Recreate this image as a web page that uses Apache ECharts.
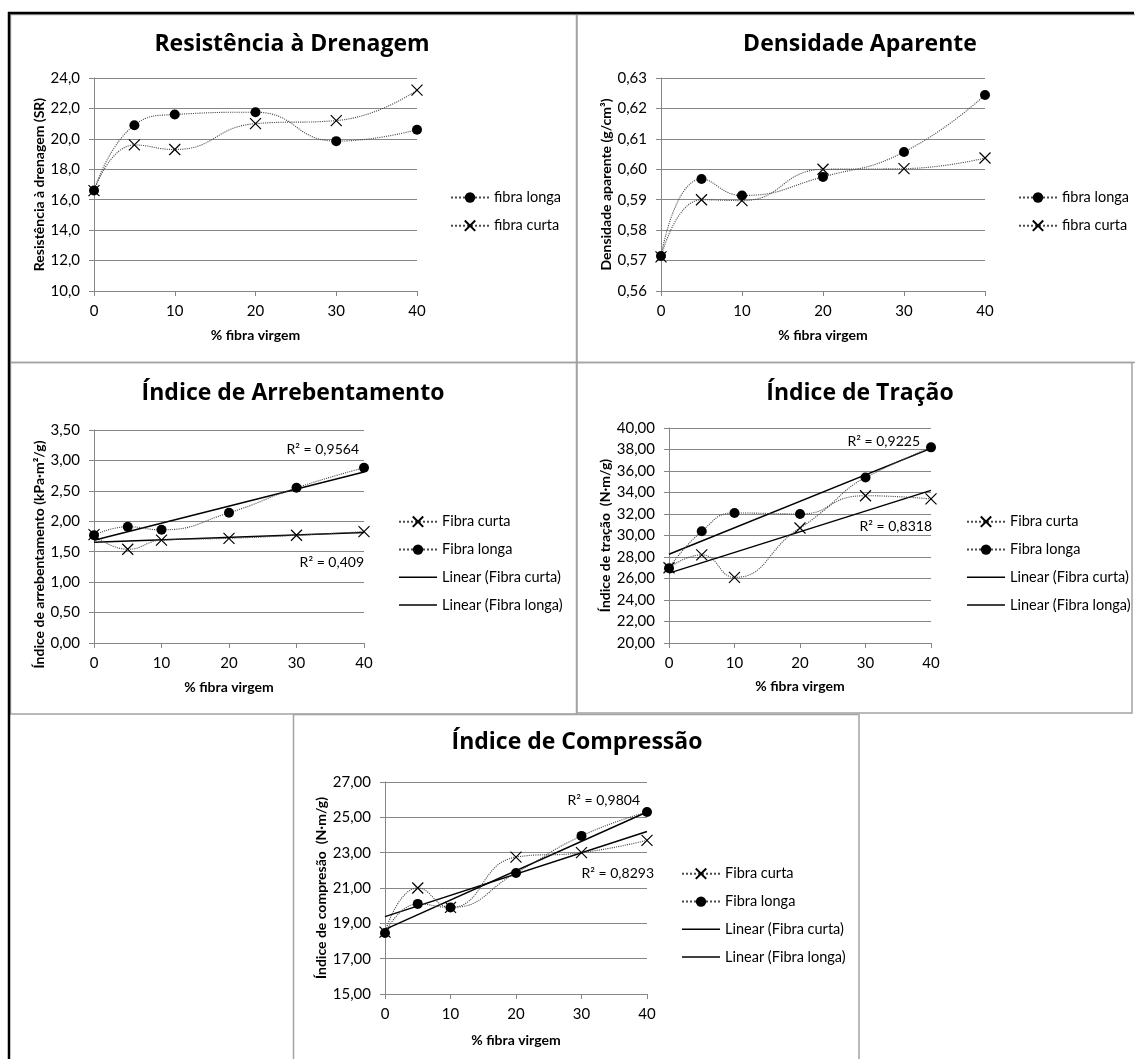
<!DOCTYPE html>
<html><head><meta charset="utf-8">
<script src="https://cdn.jsdelivr.net/npm/echarts@6/dist/echarts.min.js"></script>
<style>html,body{margin:0;padding:0;background:#fff}#c{width:1135px;height:1059px}</style>
</head><body><div id="c"></div><script>
// ---------- data ----------
const xPct = [0, 5, 10, 20, 30, 40];
const trendX = [0, 40];

// Resistência à Drenagem (SR)
const drenagemLonga = [16.6, 20.9, 21.6, 21.75, 19.85, 20.6];
const drenagemCurta = [16.6, 19.6, 19.3, 21.0, 21.2, 23.2];
// Densidade aparente (g/cm3)
const densLonga = [0.5715, 0.5968, 0.5914, 0.5975, 0.6057, 0.6244];
const densCurta = [0.5712, 0.5900, 0.5897, 0.6000, 0.6002, 0.6037];
// Índice de arrebentamento
const arrebCurta = [1.78, 1.54, 1.69, 1.72, 1.77, 1.83];
const arrebLonga = [1.77, 1.91, 1.86, 2.14, 2.55, 2.88];
const arrebTrendCurta = [1.655, 1.815];
const arrebTrendLonga = [1.69, 2.81];
// Índice de tração
const tracaoCurta = [27.0, 28.2, 26.1, 30.7, 33.7, 33.4];
const tracaoLonga = [26.95, 30.4, 32.1, 32.0, 35.4, 38.2];
const tracaoTrendCurta = [26.5, 34.2];
const tracaoTrendLonga = [28.25, 38.1];
// Índice de compressão
const compCurta = [18.5, 21.0, 19.9, 22.75, 23.0, 23.7];
const compLonga = [18.45, 20.1, 19.9, 21.85, 23.95, 25.3];
const compTrendCurta = [19.38, 24.2];
const compTrendLonga = [18.66, 25.3];

// axis ranges [min, max, step, decimals]
const yRange1 = [10, 24, 2, 1];
const yRange2 = [0.56, 0.63, 0.01, 2];
const yRange3 = [0, 3.5, 0.5, 2];
const yRange4 = [20, 40, 2, 2];
const yRange5 = [15, 27, 2, 2];
const xRange = [0, 40, 10];

const titles = ['Resistência à Drenagem', 'Densidade Aparente', 'Índice de Arrebentamento', 'Índice de Tração', 'Índice de Compressão'];
const yNames = ['Resistência à drenagem (SR)', 'Densidade aparente (g/cm³)', 'Índice de arrebentamento (kPa·m²/g)', 'Índice de tração  (N·m/g)', 'Índice de compresão  (N·m/g)'];
const xName = '% fibra virgem';
const r2Labels = [['R² = 0,9564', 'R² = 0,409'], ['R² = 0,9225', 'R² = 0,8318'], ['R² = 0,9804', 'R² = 0,8293']];

// ---------- styling / layout ----------
const FONT = 'Lato';
const GRAY = '#868686';
const layout = [
  {grid: {left: 94, top: 78, width: 323, height: 213}, tx: 292, ty: 33, lg: {left: 450, top: 190}, yGap: 44, xGap: 37, yPad: 0},
  {grid: {left: 661, top: 78, width: 324, height: 213}, tx: 860, ty: 33, lg: {left: 1018, top: 190}, yGap: 48, xGap: 37, yPad: 0},
  {grid: {left: 94, top: 430, width: 270, height: 213}, tx: 293, ty: 382, lg: {left: 398, top: 514}, yGap: 44, xGap: 37, yPad: 36},
  {grid: {left: 669, top: 428, width: 262, height: 215}, tx: 860, ty: 382, lg: {left: 966, top: 514}, yGap: 55, xGap: 36, yPad: 0},
  {grid: {left: 385, top: 782, width: 262, height: 212}, tx: 577, ty: 731, lg: {left: 681, top: 866}, yGap: 54, xGap: 39, yPad: 0}
];
const yRanges = [yRange1, yRange2, yRange3, yRange4, yRange5];

const pairs = (ys, xs) => (xs || xPct).map((x, i) => [x, ys[i]]);
const dotted = {type: 'dotted', width: 1.1, color: '#4a4a4a'};
const XSYM = 'path://M0,0L10,10M10,0L0,10';
const LINEICON = 'path://M0,0H40V1.6H0Z';
function circleS(name, ys, g) {
  return {type: 'line', name, xAxisIndex: g, yAxisIndex: g, data: pairs(ys), smooth: 0.5,
    symbol: 'circle', symbolSize: 10, itemStyle: {color: '#000'}, lineStyle: dotted, z: 4};
}
function crossS(name, ys, g) {
  return {type: 'line', name, xAxisIndex: g, yAxisIndex: g, data: pairs(ys), smooth: 0.5,
    symbol: XSYM, symbolSize: 11, itemStyle: {color: 'none', borderColor: '#000', borderWidth: 1.2},
    lineStyle: dotted, z: 3};
}
function trendS(name, ys, g) {
  return {type: 'line', name, xAxisIndex: g, yAxisIndex: g, data: pairs(ys, trendX),
    symbol: 'none', itemStyle: {color: '#000'}, lineStyle: {type: 'solid', width: 1.5, color: '#000'}, z: 2};
}

const series = [
  circleS('fibra longa', drenagemLonga, 0), crossS('fibra curta', drenagemCurta, 0),
  circleS('fibra longa', densLonga, 1), crossS('fibra curta', densCurta, 1),
  crossS('Fibra curta', arrebCurta, 2), circleS('Fibra longa', arrebLonga, 2),
  trendS('Linear (Fibra curta)', arrebTrendCurta, 2), trendS('Linear (Fibra longa)', arrebTrendLonga, 2),
  crossS('Fibra curta', tracaoCurta, 3), circleS('Fibra longa', tracaoLonga, 3),
  trendS('Linear (Fibra curta)', tracaoTrendCurta, 3), trendS('Linear (Fibra longa)', tracaoTrendLonga, 3),
  crossS('Fibra curta', compCurta, 4), circleS('Fibra longa', compLonga, 4),
  trendS('Linear (Fibra curta)', compTrendCurta, 4), trendS('Linear (Fibra longa)', compTrendLonga, 4)
];

const nameStyle = {fontFamily: FONT, fontSize: 14, fontWeight: 'bold', color: '#000'};
const labelStyle = {fontFamily: FONT, fontSize: 15, color: '#000'};
const legendText = {fontFamily: FONT, fontSize: 14.5, color: '#000'};

const grid = layout.map(l => l.grid);
const xAxis = layout.map((l, g) => ({
  type: 'value', gridIndex: g, min: xRange[0], max: xRange[1], interval: xRange[2],
  name: xName, nameLocation: 'middle', nameGap: l.xGap, nameTextStyle: nameStyle,
  axisLine: {show: true, onZero: false, lineStyle: {color: GRAY, width: 1}},
  axisTick: {show: true, length: 5, lineStyle: {color: GRAY}},
  splitLine: {show: false},
  axisLabel: Object.assign({margin: 13}, labelStyle)
}));
const yAxis = layout.map((l, g) => {
  const r = yRanges[g];
  return {
    type: 'value', gridIndex: g, min: r[0], max: r[1], interval: r[2],
    name: yNames[g], nameLocation: 'middle', nameGap: l.yGap, nameRotate: 90,
    nameTextStyle: Object.assign({padding: [0, l.yPad, 0, 0]}, nameStyle),
    axisLine: {show: true, lineStyle: {color: GRAY, width: 1}},
    axisTick: {show: true, length: 5, lineStyle: {color: GRAY}},
    splitLine: {show: true, lineStyle: {color: GRAY, width: 1}},
    axisLabel: Object.assign({margin: 14, formatter: v => v.toFixed(r[3]).replace('.', ',')}, labelStyle)
  };
});
const title = layout.map((l, g) => ({
  text: titles[g], left: l.tx, top: l.ty, textAlign: 'center', padding: 0,
  textStyle: {fontFamily: 'Open Sans', fontSize: 23, fontWeight: 'bold', color: '#000'}
}));
const trendItem = name => ({name, icon: LINEICON, itemStyle: {color: '#000'}});
const legendData = [
  ['fibra longa', 'fibra curta'], ['fibra longa', 'fibra curta'],
  ['Fibra curta', 'Fibra longa', trendItem('Linear (Fibra curta)'), trendItem('Linear (Fibra longa)')],
  ['Fibra curta', 'Fibra longa', trendItem('Linear (Fibra curta)'), trendItem('Linear (Fibra longa)')],
  ['Fibra curta', 'Fibra longa', trendItem('Linear (Fibra curta)'), trendItem('Linear (Fibra longa)')]
];
const legend = layout.map((l, g) => ({
  left: l.lg.left, top: l.lg.top, orient: 'vertical', padding: 0,
  itemWidth: 38, itemHeight: 13, itemGap: g < 2 ? 13 : 12.7, selectedMode: false,
  data: legendData[g], textStyle: legendText
}));

// panel frames + R² labels
const frame = (x, y, w, h) => ({type: 'rect', silent: true, shape: {x, y, width: w, height: h},
  style: {fill: 'none', stroke: '#a3a3a3', lineWidth: 1.5}});
const r2 = (txt, x, y) => ({type: 'text', silent: true, x, y,
  style: {text: txt, font: '14px Lato', fill: '#000', align: 'right', verticalAlign: 'middle'}});
const graphic = [
  frame(10.5, 14.5, 566, 348),
  frame(577, 14.5, 570, 348),
  frame(10.5, 362.5, 566, 351.5),
  frame(577, 362.5, 555, 350.5),
  frame(293.5, 714.5, 565.5, 360),
  r2(r2Labels[0][0], 359, 449), r2(r2Labels[0][1], 364, 562),
  r2(r2Labels[1][0], 920, 441), r2(r2Labels[1][1], 932, 526),
  r2(r2Labels[2][0], 640, 800), r2(r2Labels[2][1], 654, 873),
  {type: 'line', silent: true, shape: {x1: 8, y1: 13, x2: 1134, y2: 13}, style: {stroke: '#000', lineWidth: 2.5}},
  {type: 'line', silent: true, shape: {x1: 9, y1: 12, x2: 9, y2: 1059}, style: {stroke: '#000', lineWidth: 2.5}}
];

const chart = echarts.init(document.getElementById('c'), null, {renderer: 'canvas'});
chart.setOption({
  animation: false, backgroundColor: '#fff',
  title, legend, grid, xAxis, yAxis, series, graphic
});
</script></body></html>
